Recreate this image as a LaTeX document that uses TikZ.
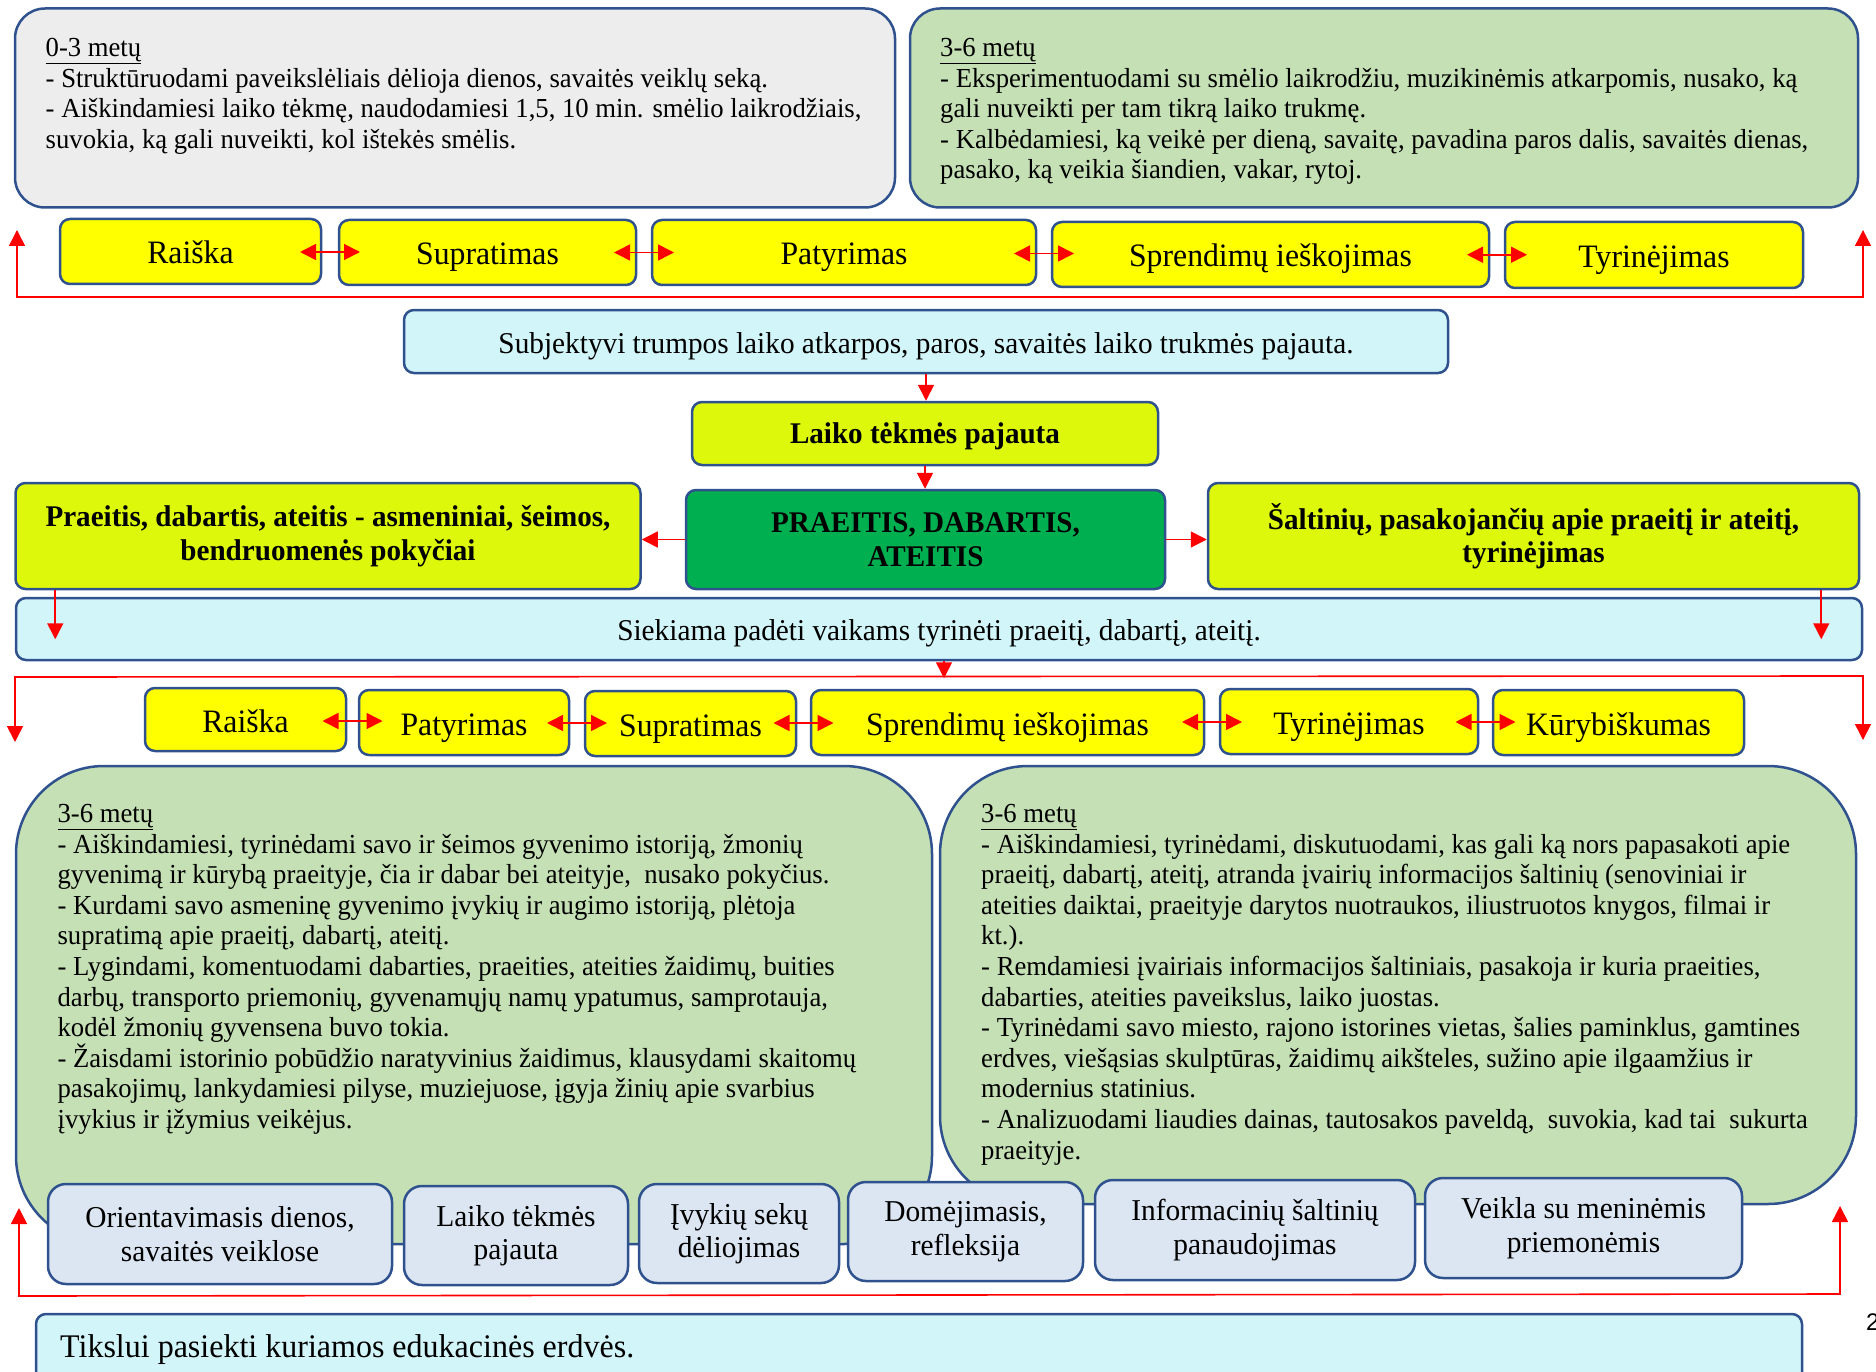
\documentclass[tikz,border=0pt]{standalone}
\usepackage{fontspec}
\setmainfont[FakeStretch=0.97]{Liberation Serif}
\newfontfamily\numfont{Liberation Sans}
\usetikzlibrary{arrows.meta,calc}
\definecolor{bordc}{RGB}{47,82,143}
\definecolor{greyfill}{RGB}{237,237,237}
\definecolor{greenfill}{RGB}{197,224,180}
\definecolor{yel}{RGB}{255,255,0}
\definecolor{ygreen}{RGB}{221,248,10}
\definecolor{dgreen}{RGB}{0,176,80}
\definecolor{cyanfill}{RGB}{210,245,249}
\definecolor{bluefill}{RGB}{220,230,242}
\begin{document}
\begin{tikzpicture}[x=1pt,y=-1pt,
  box/.style={draw=bordc, line width=2.5pt, rounded corners=10pt, inner sep=0pt, align=center},
  bigbox/.style={box, rounded corners=30pt},
  huge/.style={box, rounded corners=88pt},
  ybox/.style={box, text height=26pt, text depth=1pt, fill=yel, font=\fontsize{32.7}{37}\selectfont},
  gbox/.style={box, fill=ygreen, font=\bfseries\fontsize{30}{33.5}\selectfont},
  sbox/.style={box, fill=bluefill, rounded corners=18pt, font=\fontsize{30.3}{33.5}\selectfont},
  cbox/.style={box, text height=24pt, text depth=0.8pt, fill=cyanfill, font=\fontsize{30.2}{33}\selectfont},
  body/.style={anchor=north west, inner sep=0pt, align=left, font=\fontsize{27.5}{30.6}\selectfont},
  arr/.style={draw=red, line width=1.6pt, -{Triangle[length=16pt,width=16pt]}},
  dbl/.style={draw=red, line width=1.6pt, {Triangle[length=16pt,width=16pt]}-{Triangle[length=16pt,width=16pt]}},
  loop/.style={draw=red, line width=1.6pt, {Triangle[length=16pt,width=16pt]}-{Triangle[length=16pt,width=16pt]}}
]
\useasboundingbox (0,0) rectangle (1876,1372);
\clip (0,0) rectangle (1876,1372);

% top boxes
\node[bigbox, fill=greyfill, minimum width=880pt, minimum height=199pt] (TL) at (455,108) {};
\node[bigbox, fill=greenfill, minimum width=948pt, minimum height=199pt] (TR) at (1384,108) {};
\node[body] (TLt) at (45.5,38) {\underline{0-3 metų}\\
- Struktūruodami paveikslėliais dėlioja dienos, savaitės veiklų seką.\\
- Aiškindamiesi laiko tėkmę, naudodamiesi 1,5, 10 min. smėlio laikrodžiais,\\
suvokia, ką gali nuveikti, kol ištekės smėlis.};
\node[body] (TRt) at (940,38) {\underline{3-6 metų}\\
- Eksperimentuodami su smėlio laikrodžiu, muzikinėmis atkarpomis, nusako, ką\\
gali nuveikti per tam tikrą laiko trukmę.\\
- Kalbėdamiesi, ką veikė per dieną, savaitę, pavadina paros dalis, savaitės dienas,\\
pasako, ką veikia šiandien, vakar, rytoj.};

% row 1
\node[ybox, minimum width=261pt, minimum height=65pt] (r1a) at (190.5,251.5) {Raiška};
\node[ybox, minimum width=297pt, minimum height=65pt] (r1b) at (487.5,252.5) {Supratimas};
\node[ybox, minimum width=384pt, minimum height=65pt] (r1c) at (844,252.5) {Patyrimas};
\node[ybox, minimum width=437pt, minimum height=65pt] (r1d) at (1270.5,254.5) {Sprendimų ieškojimas};
\node[ybox, minimum width=298pt, minimum height=66pt] (r1e) at (1654,255) {Tyrinėjimas};
\foreach \a/\b in {r1a/r1b,r1b/r1c,r1c/r1d,r1d/r1e}{
  \draw[dbl] ($(\a.east)!.5!(\b.west)+(-30,0)$) -- ($(\a.east)!.5!(\b.west)+(30,0)$);
}
\coordinate (l1a) at (17,230);
\coordinate (l1b) at (1863,230);
\draw[loop] (l1a) -- (17,297) -- (1863,297) -- (l1b);

% middle
\node[cbox, minimum width=1044pt, minimum height=63pt] (subj) at (926,341.5) {Subjektyvi trumpos laiko atkarpos, paros, savaitės laiko trukmės pajauta.};
\node[gbox, text height=22pt, text depth=1.2pt, minimum width=466pt, minimum height=63pt] (laiko) at (925,433.5) {Laiko tėkmės pajauta};
\node[gbox, fill=dgreen, minimum width=479pt, minimum height=99pt] (prae) at (925.5,539.5) {PRAEITIS, DABARTIS,\\ATEITIS};
\node[gbox, minimum width=625pt, minimum height=106pt] (lb) at (328,536) {Praeitis, dabartis, ateitis - asmeniniai, šeimos,\\bendruomenės pokyčiai};
\node[gbox, minimum width=651pt, minimum height=106pt] (rb) at (1533.5,536) {Šaltinių, pasakojančių apie praeitį ir ateitį,\\tyrinėjimas};
\node[cbox, minimum width=1846pt, minimum height=62pt] (siek) at (939,629) {Siekiama padėti vaikams tyrinėti praeitį, dabartį, ateitį.};

\draw[arr] (subj.south) -- (subj.south |- laiko.north);
\draw[arr] (laiko.south) -- (laiko.south |- prae.north);
\draw[arr] (prae.west) -- (prae.west -| lb.east);
\draw[arr] (prae.east) -- (prae.east -| rb.west);
\draw[arr] ([xshift=41pt]lb.south west) -- ++(0,49);
\draw[arr] ([xshift=-39pt]rb.south east) -- ++(0,49);
\draw[arr] ([xshift=5pt]siek.south) -- ++(0,17);
\coordinate (l2a) at (15,742);
\coordinate (l2b) at (1863,740);
\draw[loop] (l2a) -- (15,677) -- (1863,676) -- (l2b);

% row 2
\node[ybox, minimum width=201pt, minimum height=63pt] (r2a) at (245.5,719.5) {Raiška};
\node[ybox, minimum width=210pt, minimum height=65pt] (r2b) at (464,722.5) {Patyrimas};
\node[ybox, minimum width=211pt, minimum height=65pt] (r2c) at (690.5,723.5) {Supratimas};
\node[ybox, minimum width=393pt, minimum height=65pt] (r2d) at (1007.5,722.5) {Sprendimų ieškojimas};
\node[ybox, minimum width=258pt, minimum height=65pt] (r2e) at (1349,721.5) {Tyrinėjimas};
\node[ybox, minimum width=251pt, minimum height=65pt] (r2f) at (1618.5,722.5) {Kūrybiškumas};
\foreach \a/\b in {r2a/r2b,r2b/r2c,r2c/r2d,r2d/r2e,r2e/r2f}{
  \draw[dbl] ($(\a.east)!.5!(\b.west)+(-30,0)$) -- ($(\a.east)!.5!(\b.west)+(30,0)$);
}

% bottom big boxes
\node[huge, fill=greenfill, minimum width=916pt, minimum height=478pt] (BL) at (474,1005) {};
\node[huge, fill=greenfill, minimum width=916pt, minimum height=438pt] (BR) at (1398,985) {};
\node[body] (BLt) at (57.4,804) {\underline{3-6 metų}\\
- Aiškindamiesi, tyrinėdami savo ir šeimos gyvenimo istoriją, žmonių\\
gyvenimą ir kūrybą praeityje, čia ir dabar bei ateityje,\ \ nusako pokyčius.\\
- Kurdami savo asmeninę gyvenimo įvykių ir augimo istoriją, plėtoja\\
supratimą apie praeitį, dabartį, ateitį.\\
- Lygindami, komentuodami dabarties, praeities, ateities žaidimų, buities\\
darbų, transporto priemonių, gyvenamųjų namų ypatumus, samprotauja,\\
kodėl žmonių gyvensena buvo tokia.\\
- Žaisdami istorinio pobūdžio naratyvinius žaidimus, klausydami skaitomų\\
pasakojimų, lankydamiesi pilyse, muziejuose, įgyja žinių apie svarbius\\
įvykius ir įžymius veikėjus.};
\node[body] (BRt) at (981,804) {\underline{3-6 metų}\\
- Aiškindamiesi, tyrinėdami, diskutuodami, kas gali ką nors papasakoti apie\\
praeitį, dabartį, ateitį, atranda įvairių informacijos šaltinių (senoviniai ir\\
ateities daiktai, praeityje darytos nuotraukos, iliustruotos knygos, filmai ir\\
kt.).\\
- Remdamiesi įvairiais informacijos šaltiniais, pasakoja ir kuria praeities,\\
dabarties, ateities paveikslus, laiko juostas.\\
- Tyrinėdami savo miesto, rajono istorines vietas, šalies paminklus, gamtines\\
erdves, viešąsias skulptūras, žaidimų aikšteles, sužino apie ilgaamžius ir\\
modernius statinius.\\
- Analizuodami liaudies dainas, tautosakos paveldą,\ \ suvokia, kad tai\ \ sukurta\\
praeityje.};

% bottom small boxes
\node[sbox, minimum width=344pt, minimum height=100pt] (s1) at (220,1234) {Orientavimasis dienos,\\savaitės veiklose};
\node[sbox, minimum width=224pt, minimum height=99pt] (s2) at (516,1235.5) {Laiko tėkmės\\pajauta};
\node[sbox, minimum width=200pt, minimum height=99pt] (s3) at (739,1233.5) {Įvykių sekų\\dėliojimas};
\node[sbox, minimum width=235pt, minimum height=99pt] (s4) at (965.5,1231.5) {Domėjimasis,\\refleksija};
\node[sbox, minimum width=320pt, minimum height=100pt] (s5) at (1255,1230) {Informacinių šaltinių\\panaudojimas};
\node[sbox, minimum width=317pt, minimum height=100pt] (s6) at (1583.5,1228) {Veikla su meninėmis\\priemonėmis};
\coordinate (l3a) at (19,1208);
\coordinate (l3b) at (1840,1206);
\draw[loop] (l3a) -- (19,1296) -- (1840,1294) -- (l3b);

% final box
\node[box, fill=cyanfill, minimum width=1766pt, minimum height=92pt] (tiks) at (919,1360) {};
\node[anchor=west, inner sep=0pt, font=\fontsize{33}{36}\selectfont] (tikst) at (60,1350) {Tikslui pasiekti kuriamos edukacinės erdvės.};
\node[anchor=west, inner sep=0pt, font=\numfont\fontsize{24}{24}\selectfont] (pg) at (1866,1322) {2};
\end{tikzpicture}
\end{document}
